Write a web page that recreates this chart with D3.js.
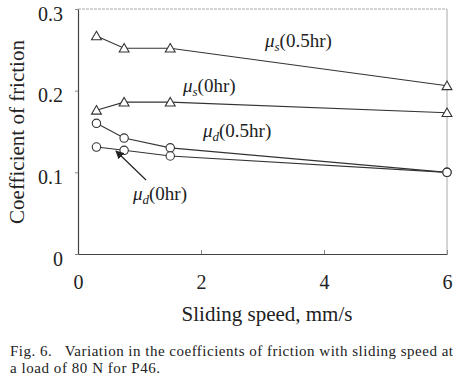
<!DOCTYPE html>
<html><head><meta charset="utf-8">
<script src="https://cdn.jsdelivr.net/npm/d3@7"></script>
</head><body style="margin:0;background:#fff"><svg id="c" width="463" height="381"></svg>
<script>
const speeds = [0.3, 0.75, 1.5, 6];
const muS05 = [0.267, 0.252, 0.252, 0.206];
const muS0 = [0.176, 0.186, 0.186, 0.173];
const muD05 = [0.160, 0.142, 0.130, 0.100];
const muD0 = [0.131, 0.127, 0.120, 0.100];
const xTicks = [0, 2, 4, 6];
const yTicks = [0, 0.1, 0.2, 0.3];

const FF = "'Liberation Serif'";
const svg = d3.select("#c");
const x = d3.scaleLinear().domain([0, 6]).range([78, 447]);
const y = d3.scaleLinear().domain([0, 0.3]).range([254, 9]);

function txt(sel, size){ return sel.style("font-family",FF).style("font-size",size+"px").attr("fill","#222"); }

svg.append("line").attr("x1",78).attr("x2",447).attr("y1",9).attr("y2",9).attr("stroke","#aaa").attr("stroke-width",1).attr("stroke-dasharray","3,1");
svg.append("line").attr("x1",447).attr("x2",447).attr("y1",9).attr("y2",254).attr("stroke","#aaa").attr("stroke-width",1);

const xa = svg.append("g").attr("transform","translate(0,254)")
  .call(d3.axisBottom(x).tickValues(xTicks).tickSizeInner(-4).tickSizeOuter(0).tickPadding(14).tickFormat(d3.format("d")));
const ya = svg.append("g").attr("transform","translate(78,0)")
  .call(d3.axisLeft(y).tickValues(yTicks).tickSizeInner(3).tickSizeOuter(0).tickPadding(12).tickFormat(d=>d===0?"0":d3.format(".1f")(d)));
[xa, ya].forEach(a=>{
  a.attr("font-family",null);
  a.select(".domain").attr("stroke","#444").attr("stroke-width",1.2);
  a.selectAll(".tick line").attr("stroke","#888");
  txt(a.selectAll("text"), 20);
});
xa.selectAll("text").attr("y",35).attr("dy",0);
ya.selectAll("text").attr("dy",11);

txt(svg.append("text").attr("transform","translate(24,132) rotate(-90)").attr("text-anchor","middle"),21).text("Coefficient of friction");
txt(svg.append("text").attr("x",267).attr("y",321).attr("text-anchor","middle"),21).text("Sliding speed, mm/s");

txt(svg.append("text").attr("x",10).attr("y",356).attr("xml:space","preserve")
  .attr("textLength",443).attr("lengthAdjust","spacing"),15).text("Fig. 6.   Variation in the coefficients of friction with sliding speed at");
txt(svg.append("text").attr("x",10).attr("y",373)
  .attr("textLength",150).attr("lengthAdjust","spacing"),15).text("a load of 80 N for P46.");

const line = d3.line().x((d,i)=>x(speeds[i])).y(d=>y(d));
const series = [[muS05,"tri"],[muS0,"tri"],[muD05,"circ"],[muD0,"circ"]];
series.forEach(([vals,shape])=>{
  svg.append("path").datum(vals).attr("d",line).attr("fill","none").attr("stroke","#333").attr("stroke-width",1.1);
});
const tri = d3.symbol().type(d3.symbolTriangle).size(42);
series.forEach(([vals,shape])=>{
  const g = svg.append("g");
  vals.forEach((v,i)=>{
    if(shape==="tri"){
      g.append("path").attr("d",tri()).attr("transform",`translate(${x(speeds[i])},${y(v)+1})`)
        .attr("fill","#fff").attr("stroke","#333").attr("stroke-width",1.1);
    } else {
      g.append("circle").attr("cx",x(speeds[i])).attr("cy",y(v)).attr("r",4.2)
        .attr("fill","#fff").attr("stroke","#333").attr("stroke-width",1.1);
    }
  });
});

function label(xp, yp, sub, rest){
  const t = txt(svg.append("text").attr("x",xp).attr("y",yp),19);
  t.append("tspan").style("font-style","italic").text("μ");
  t.append("tspan").style("font-style","italic").style("font-size","13px").attr("dy",4).text(sub);
  t.append("tspan").attr("dy",-4).text(rest);
}
label(265, 47, "s", "(0.5hr)");
label(183, 92, "s", "(0hr)");
label(203, 137, "d", "(0.5hr)");
label(133, 200, "d", "(0hr)");

svg.append("defs").append("marker").attr("id","ah").attr("viewBox","0 0 10 10").attr("refX",9).attr("refY",5)
  .attr("markerWidth",7).attr("markerHeight",7).attr("orient","auto")
  .append("path").attr("d","M0,0L10,5L0,10z").attr("fill","#222");
svg.append("line").attr("x1",146).attr("y1",180).attr("x2",116).attr("y2",151).attr("stroke","#222").attr("stroke-width",1.2).attr("marker-end","url(#ah)");
</script></body></html>
